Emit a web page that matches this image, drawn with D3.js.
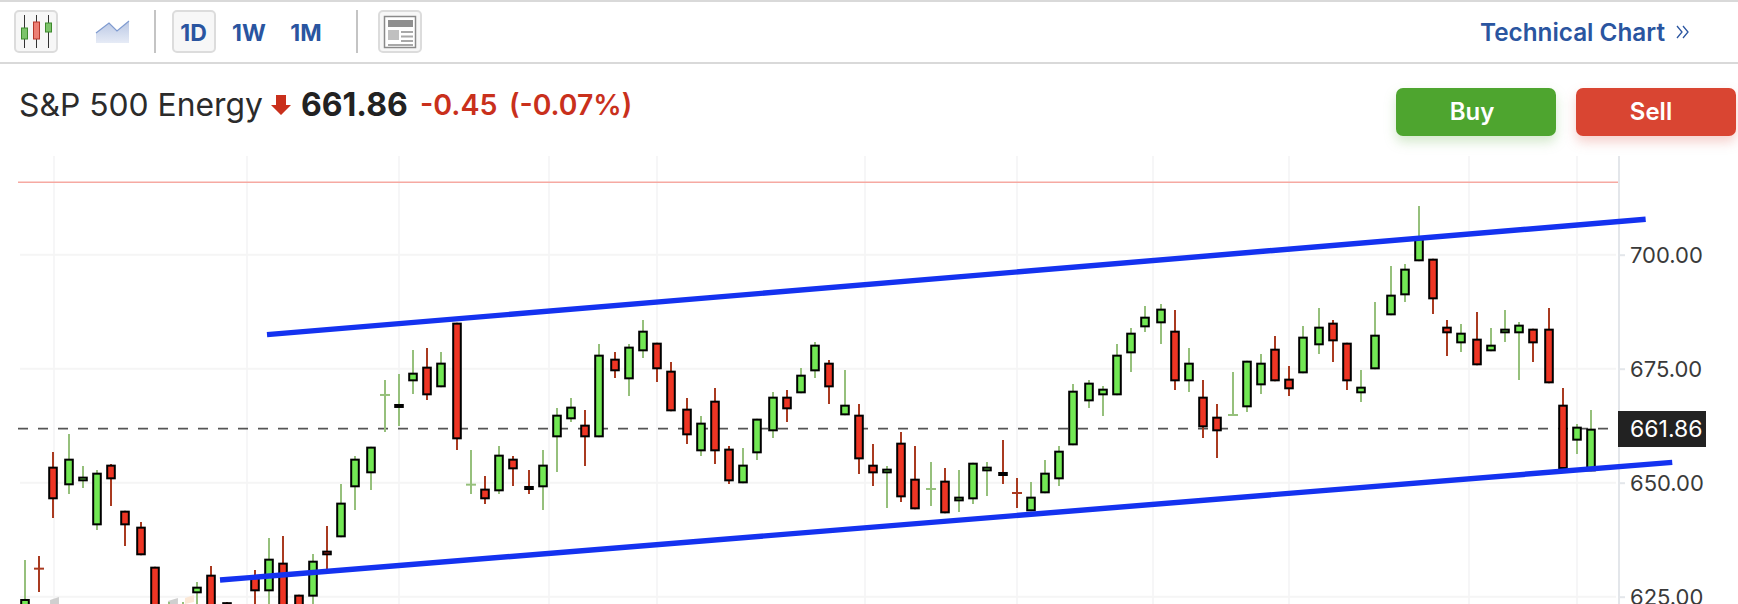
<!DOCTYPE html>
<html>
<head>
<meta charset="utf-8">
<script src="https://cdn.jsdelivr.net/npm/d3@7"></script>
<style>
  html, body { margin: 0; padding: 0; background: #fff; overflow: hidden; }
  svg { display: block; font-family: Inter, "Liberation Sans", sans-serif; }
  .axis path, .axis line { stroke: #e3e6ea; stroke-width: 2; }
  .axis text { fill: #3a3a3a; font-size: 22px; font-family: Inter, sans-serif; }
  .axis .domain { display: none; }
  .btn { fill: #f7f7f7; stroke: #dcdcdc; stroke-width: 2; }
  .buy { filter: drop-shadow(0 6px 6px rgba(78,165,47,0.25)); }
  .sell { filter: drop-shadow(0 6px 6px rgba(217,69,50,0.25)); }
</style>
</head>
<body>
<svg id="chart" width="1738" height="604"></svg>
<script>
// daily candles, oldest first
const opens = [620,631.17,653.52,649.43,650.3,640.65,653.96,643.87,640.36,631.59,
  616,617,625.74,629.83,623.8,622,629.39,626.18,632.47,625.45,
  625.01,635.1,638.02,648.99,652.06,669.24,666.39,672.23,675.45,670.92,
  685.1,649.57,648.7,648.11,655.27,649.28,648.99,659.95,663.9,662.73,
  659.95,677.2,672.67,678.81,680.71,674.57,666.24,656.88,667.99,657.47,
  649.86,656.44,661.27,668.87,669.6,674.42,676.32,664.77,664.92,653.95,
  652.05,658.78,650.88,648.62,650.45,645.91,646.35,652.49,652.35,647.76,
  643.72,647.67,650.74,658.19,667.84,669.16,669.16,678.37,684.07,684.95,
  683.34,672.23,668.87,664.48,664.85,666.53,671.35,679.39,672.82,673.98,
  680.13,685.1,680.71,669.6,674.86,686.7,691.09,698.55,699.13,684.22,
  680.56,681.59,678.81,682.76,682.76,683.78,683.78,667.11,659.22,652.49];
const highs = [633.05,633.93,656.74,660.68,653.67,652.79,654.1,643.87,641.39,631.59,
  623.84,623.84,628.23,631.74,623.84,622,630.86,637.87,638.31,625.45,
  634.37,640.51,649.72,655.86,657.91,672.53,673.84,679.1,679.54,678.67,
  685.1,657.17,651.47,658.05,655.86,652.79,657.17,666.39,668.58,665.95,
  680.42,678.67,680.42,685.68,680.71,676.47,668.58,664.63,670.77,658.05,
  657.61,664.05,669.89,670.33,675.15,680.86,676.91,674.72,667.26,658.49,
  653.66,661.12,658.05,654.54,653.22,652.79,654.39,654.54,659.36,651.03,
  650.15,654.98,658.05,671.64,672.52,671.21,680.42,683.93,688.75,689.19,
  687.87,679.54,672.52,667.26,674.28,676.76,678.23,682.17,675.59,684.37,
  688.31,685.68,680.71,674.72,689.63,697.52,697.96,710.68,699.13,685.68,
  684.8,687.43,683.93,687.87,685.24,683.78,688.31,670.77,662.87,665.94];
const lows = [618,626.03,642.26,647.53,648.84,639.63,644.89,636.12,634.08,616,
  615,615,622,616,622,620,620,622,616,616,
  622,630.86,638.02,644.02,648.4,661.12,662.44,669.45,668.14,670.92,
  657.17,647.53,645.33,647.53,649.28,647.53,644.02,652.35,663.31,653.67,
  659.95,672.96,669.02,677.35,672.09,665.65,658.49,655.86,654.1,649.72,
  649.86,654.98,659.81,663.31,669.6,672.96,667.26,664.77,651.91,649.28,
  644.45,645.77,644.16,644.89,643.28,643.57,645.33,647.08,649.71,644.45,
  643.72,647.67,649.28,658.19,666.38,664.63,669.16,674.28,683.05,680.42,
  670.33,669.89,659.8,655.42,664.85,665.51,669.45,672.23,669.01,673.98,
  678.23,676.47,670.33,667.7,674.86,686.7,689.63,698.55,687,677.79,
  678.66,675.74,678.81,680.86,672.52,676.47,671.79,653,656.29,652.49];
const closes = [624.5,631.15,646.36,655.27,651.33,652.2,650.74,640.65,634.08,618,
  620,622,627.2,618,623.2,621,626.18,633.34,618,618,
  632.9,634.08,645.63,655.27,657.91,669.24,667.26,674.13,669.16,676.33,
  659.51,649.57,646.36,656.15,652.93,648.4,653.96,664.92,666.68,659.95,
  678.08,674.43,679.84,683.34,674.87,665.65,660.39,663.17,656.88,650.3,
  653.96,664.05,668.87,666.09,673.69,680.27,670.91,667.11,655.12,652.05,
  653.08,646.79,644.16,648.62,643.28,646.94,654.39,653.52,651.47,647.74,
  646.94,652.2,657.02,670.18,671.94,670.62,678.08,682.9,686.41,688.17,
  672.23,676.32,662.14,661.27,664.85,676.76,676.32,672.23,670.48,682.03,
  684.22,681,672.23,671.06,682.46,691.24,696.94,703.96,690.21,682.76,
  682.9,675.74,680.27,683.78,684.66,680.56,671.79,653,662.29,661.85];

const yTicks = [625, 650, 675, 700];
const gridSessions = [2, 15.44, 26, 36.46, 43.98, 58.45, 69.03, 78.5, 87.97, 100.5, 108];
const lastPrice = 661.86;
const limitLevel = 715.9;
// trendlines as [session, level]
const upperTrend = [[16.83, 682.46], [112.79, 707.76]];
const lowerTrend = [[13.56, 628.66], [114.64, 654.47]];
// bits of other drawings peeking in at the bottom edge
const greyPatchA = [[1.73, 624.28], [2.35, 624.93], [2.35, 623], [1.73, 623]];
const greyPatchB = [[9.94, 624.06], [10.63, 624.71], [10.63, 623], [9.94, 623]];
const peachPatch = [[11.12, 624.71], [11.75, 625.37], [11.75, 623.84], [11.12, 623.4]];

const svg = d3.select("#chart");
const x = d3.scaleLinear().domain([0, 109]).range([25.2, 1591.2]);
const y = d3.scaleLinear().domain([625, 700]).range([596.7, 254.7]);
// candles sit on whole odd pixels so the wicks stay sharp
const cx = i => Math.floor(x(i) / 2) * 2 + 1;

const GREEN_WICK = "#96c07c", RED_WICK = "#a93a20";
const GREEN_BODY = "#72e854", RED_BODY = "#ee3524";
const BLUE = "#2a55a0";

drawToolbar();
drawHeader();
drawGrid();
drawPatches();
drawCandles();
drawTrends();

function drawToolbar(){
    const g = svg.append("g");
    g.append("rect").attr("width", 1738).attr("height", 2).attr("fill", "#d9d9d9");
    g.append("rect").attr("y", 62).attr("width", 1738).attr("height", 2).attr("fill", "#d9d9d9");

    // candle button
    g.append("rect").attr("class", "btn").attr("x", 15).attr("y", 11).attr("width", 42).attr("height", 41).attr("rx", 4);
    [[24.5, 28, 39, "#7cc36a", "#3d8a2c"], [36.5, 22, 39, "#ec7f74", "#b5372a"], [48.5, 23, 32, "#7cc36a", "#3d8a2c"]].forEach(c => {
        g.append("line").attr("x1", c[0]).attr("x2", c[0]).attr("y1", 15).attr("y2", 48).attr("stroke", "#333").attr("stroke-width", 1);
        g.append("rect").attr("x", c[0] - 3).attr("y", c[1]).attr("width", 6).attr("height", c[2] - c[1])
            .attr("fill", c[3]).attr("stroke", c[4]);
    });

    // area button
    const grad = svg.append("defs").append("linearGradient").attr("id", "areaFill")
        .attr("x1", 0).attr("x2", 0).attr("y1", 0).attr("y2", 1);
    grad.append("stop").attr("offset", 0).attr("stop-color", "#b9c7e4");
    grad.append("stop").attr("offset", 1).attr("stop-color", "#e6ebf6");
    g.append("path").attr("d", "M96,33L109,23L117,31L129,21V43H96Z").attr("fill", "url(#areaFill)");
    g.append("path").attr("d", "M96,33L109,23L117,31L129,21").attr("fill", "none").attr("stroke", "#7f9bd0").attr("stroke-width", 1.2);

    g.append("rect").attr("x", 154).attr("y", 10).attr("width", 2).attr("height", 43).attr("fill", "#c4c4c4");
    g.append("rect").attr("x", 356).attr("y", 10).attr("width", 2).attr("height", 43).attr("fill", "#c4c4c4");

    // period buttons
    g.append("rect").attr("class", "btn").attr("x", 173).attr("y", 11).attr("width", 42).attr("height", 41).attr("rx", 4);
    g.selectAll("text.period").data([["1D", 193.5], ["1W", 249], ["1M", 306]]).enter().append("text")
        .attr("class", "period").attr("x", d => d[1]).attr("y", 41).attr("text-anchor", "middle")
        .attr("font-size", 23).attr("font-weight", 700).attr("fill", BLUE).text(d => d[0]);

    // layout button
    g.append("rect").attr("class", "btn").attr("x", 379).attr("y", 11).attr("width", 42).attr("height", 41).attr("rx", 4);
    g.append("rect").attr("x", 384.5).attr("y", 16.5).attr("width", 31).attr("height", 31).attr("fill", "#fff").attr("stroke", "#8a8a8a").attr("stroke-width", 1.5);
    g.append("rect").attr("x", 388).attr("y", 20).attr("width", 25).attr("height", 7).attr("fill", "#8f8f8f");
    g.append("rect").attr("x", 388).attr("y", 30).attr("width", 11).attr("height", 10).attr("fill", "#c0c0c0");
    [31, 35.5, 40, 44].forEach((ly, i) => {
        g.append("rect").attr("x", i == 3 ? 388 : 401).attr("y", ly).attr("width", i == 3 ? 25 : 12).attr("height", 2).attr("fill", "#a8a8a8");
    });

    g.append("text").attr("x", 1480).attr("y", 41).attr("font-size", 24.3).attr("font-weight", 600).attr("fill", BLUE).text("Technical Chart");
    g.append("path").attr("d", "M1677,26L1682,32L1677,38M1683,26L1688,32L1683,38").attr("fill", "none").attr("stroke", BLUE).attr("stroke-width", 1.3);
}

function drawHeader(){
    const g = svg.append("g");
    g.append("text").attr("x", 19).attr("y", 116).attr("font-size", 31.8).attr("fill", "#2b2b2b").text("S&P 500 Energy");
    g.append("path").attr("d", "M276,95H286V105H291L281,115L271,105H276Z").attr("fill", "#c9301c");
    g.append("text").attr("x", 301).attr("y", 116).attr("font-size", 32).attr("font-weight", 700).attr("fill", "#222").text(lastPrice.toFixed(2));
    g.append("text").attr("x", 420).attr("y", 115).attr("font-size", 28.6).attr("font-weight", 600).attr("fill", "#c9301c").text("-0.45");
    g.append("text").attr("x", 509).attr("y", 115).attr("font-size", 28.3).attr("font-weight", 600).attr("fill", "#c9301c").text("(-0.07%)");

    g.append("rect").attr("class", "buy").attr("x", 1396).attr("y", 88).attr("width", 160).attr("height", 48).attr("rx", 7).attr("fill", "#4ea52f");
    g.append("rect").attr("class", "sell").attr("x", 1576).attr("y", 88).attr("width", 160).attr("height", 48).attr("rx", 7).attr("fill", "#d94532");
    g.append("text").attr("x", 1472).attr("y", 120).attr("text-anchor", "middle").attr("font-size", 24).attr("font-weight", 600).attr("fill", "#fff").text("Buy");
    g.append("text").attr("x", 1651).attr("y", 120).attr("text-anchor", "middle").attr("font-size", 24).attr("font-weight", 600).attr("fill", "#fff").text("Sell");
}

function drawGrid(){
    const g = svg.append("g");
    g.selectAll("line.v").data(gridSessions).enter().append("line").attr("class", "v")
        .attr("x1", d => Math.round(x(d))).attr("x2", d => Math.round(x(d)))
        .attr("y1", 156).attr("y2", 604).attr("stroke", "#f6f6f7").attr("stroke-width", 2);
    g.selectAll("line.h").data(yTicks).enter().append("line").attr("class", "h")
        .attr("x1", 20).attr("x2", 1616).attr("y1", d => y(d)).attr("y2", d => y(d))
        .attr("stroke", "#f5f5f5").attr("stroke-width", 2);

    g.append("line").attr("x1", 18).attr("x2", 1618).attr("y1", y(limitLevel)).attr("y2", y(limitLevel))
        .attr("stroke", "#f6a9a2").attr("stroke-width", 1.5);
    g.append("line").attr("x1", 18).attr("x2", 1608).attr("y1", y(lastPrice)).attr("y2", y(lastPrice))
        .attr("stroke", "#555").attr("stroke-width", 1.6).attr("stroke-dasharray", "10 10");

    g.append("line").attr("x1", 1619).attr("x2", 1619).attr("y1", 156).attr("y2", 604)
        .attr("stroke", "#e3e6ea").attr("stroke-width", 2);

    const axis = g.append("g").attr("class", "axis").attr("transform", "translate(1619,0)")
        .call(d3.axisRight(y).tickValues(yTicks).tickFormat(d3.format(".2f")).tickSize(6).tickPadding(5));
    axis.selectAll("text").attr("dy", "0.36em");

    // last price tag
    g.append("rect").attr("x", 1618).attr("y", 411).attr("width", 88).attr("height", 36).attr("fill", "#222");
    g.append("text").attr("x", 1630).attr("y", y(lastPrice)).attr("dy", "0.36em").attr("font-size", 23)
        .attr("fill", "#fff").text(lastPrice.toFixed(2));
}

function drawPatches(){
    const area = d3.line().x(d => x(d[0])).y(d => y(d[1]));
    svg.append("path").attr("d", area(greyPatchA) + "Z").attr("fill", "#cfcfcf");
    svg.append("path").attr("d", area(greyPatchB) + "Z").attr("fill", "#cfcfcf");
    svg.append("path").attr("d", area(peachPatch) + "Z").attr("fill", "#fbe8d6");
}

function drawCandles(){
    const candles = d3.range(opens.length).map(i => ({
        i: i, open: opens[i], high: highs[i], low: lows[i], close: closes[i],
        up: closes[i] >= opens[i],
        flat: Math.abs(closes[i] - opens[i]) < 0.05
    }));
    const g = svg.append("g");

    g.selectAll("line.wick").data(candles).enter().append("line").attr("class", "wick")
        .attr("x1", d => cx(d.i)).attr("x2", d => cx(d.i))
        .attr("y1", d => y(d.high)).attr("y2", d => y(d.low))
        .attr("stroke", d => d.up ? GREEN_WICK : RED_WICK).attr("stroke-width", 2);

    // open == close prints as a plain tick in the wick colour
    g.selectAll("line.flat").data(candles.filter(d => d.flat)).enter().append("line").attr("class", "flat")
        .attr("x1", d => cx(d.i) - 5).attr("x2", d => cx(d.i) + 5)
        .attr("y1", d => y(d.close)).attr("y2", d => y(d.close))
        .attr("stroke", d => d.up ? GREEN_WICK : RED_WICK).attr("stroke-width", 2);

    // bodies: y values are the outer edges, so the stroke goes inside them
    g.selectAll("rect.body").data(candles.filter(d => !d.flat)).enter().append("rect").attr("class", "body")
        .attr("x", d => cx(d.i) - 3.8).attr("width", 7.6)
        .attr("y", d => y(Math.max(d.open, d.close)) + 1)
        .attr("height", d => Math.max(0.8, Math.abs(y(d.open) - y(d.close)) - 2))
        .attr("fill", d => d.up ? GREEN_BODY : RED_BODY)
        .attr("stroke", "#000").attr("stroke-width", 2);
}

function drawTrends(){
    const line = d3.line().x(d => x(d[0])).y(d => y(d[1]));
    svg.selectAll("path.trend").data([upperTrend, lowerTrend]).enter().append("path").attr("class", "trend")
        .attr("d", line).attr("fill", "none").attr("stroke", "#1432f0").attr("stroke-width", 5.4);
}
</script>
</body>
</html>
